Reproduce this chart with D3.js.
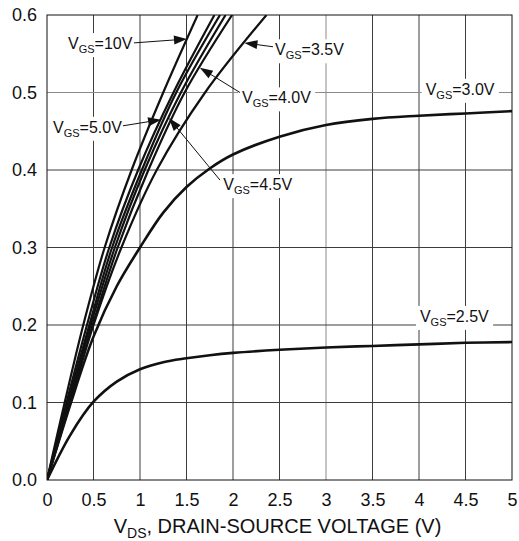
<!DOCTYPE html>
<html>
<head>
<meta charset="utf-8">
<script src="https://d3js.org/d3.v7.min.js"></script>
<title>Drain current vs drain-source voltage</title>
<style>
body { margin: 0; background: #fff; }
text { font-family: "Liberation Sans", Arial, sans-serif; fill: #111; }
</style>
</head>
<body>
<div id="chart"></div>
<script>
// steep curves, read as VDS at fixed drain current levels (A)
var idLevels = [0, 0.1, 0.2, 0.3, 0.4, 0.5, 0.6];
var vds10V  = [0, 0.19, 0.39, 0.62, 0.91, 1.25, 1.62];
var vds5V   = [0, 0.21, 0.43, 0.67, 0.98, 1.36, 1.80];
var vdsMid  = [0, 0.22, 0.455, 0.70, 1.02, 1.39, 1.86];   // unlabelled one in the bundle
var vds4_5V = [0, 0.23, 0.47, 0.73, 1.05, 1.44, 1.92];
var vds4V   = [0, 0.24, 0.49, 0.76, 1.09, 1.48, 1.99];
var vds3_5V = [0, 0.25, 0.50, 0.80, 1.18, 1.70, 2.36];

// flatter curves, read as drain current at fixed VDS
var vdsLevels = [0, 0.25, 0.5, 0.75, 1, 1.25, 1.5, 1.75, 2, 2.5, 3, 3.5, 4, 4.5, 5];
var id3V   = [0, 0.097, 0.185, 0.250, 0.300, 0.345, 0.378, 0.402, 0.420, 0.443, 0.458, 0.466, 0.470, 0.473, 0.476];
var id2_5V = [0, 0.058, 0.101, 0.127, 0.143, 0.152, 0.157, 0.161, 0.164, 0.168, 0.171, 0.173, 0.175, 0.177, 0.178];

var xTicks = [0, 0.5, 1, 1.5, 2, 2.5, 3, 3.5, 4, 4.5, 5];
var xTickLabels = ["0", "0.5", "1", "1.5", "2", "2.5", "3", "3.5", "4", "4.5", "5"];
var yTicks = [0, 0.1, 0.2, 0.3, 0.4, 0.5, 0.6];
var yTickLabels = ["0.0", "0.1", "0.2", "0.3", "0.4", "0.5", "0.6"];

// curve labels: text after "VGS=", text anchor (VDS, ID), arrow start, curve index + ID of arrow tip
var labelText  = ["10V", "5.0V", "4.5V", "4.0V", "3.5V", "3.0V", "2.5V"];
var labelAt    = [[0.226, 0.556], [0.065, 0.448], [1.895, 0.374], [2.097, 0.486], [2.452, 0.548], [4.072, 0.497], [4.01, 0.204]];
var arrowFrom  = [[0.935, 0.564], [0.817, 0.457], [1.86, 0.387], [2.075, 0.50], [2.43, 0.559], null, null];
var arrowCurve = [0, 1, 3, 4, 5, null, null];
var arrowId    = [0.569, 0.465, 0.467, 0.532, 0.564, null, null];

(function(){

var w = 519, h = 541;
var left = 47, right = 512, top = 15, bottom = 480;

var x = d3.scaleLinear().domain([0, 5]).range([left, right]);
var y = d3.scaleLinear().domain([0, 0.6]).range([bottom, top]);

var svg = d3.select("#chart").append("svg")
    .attr("width", w).attr("height", h);

svg.append("clipPath").attr("id", "plot")
  .append("rect")
    .attr("x", left).attr("y", top)
    .attr("width", right - left).attr("height", bottom - top);

// grid
svg.append("g").selectAll("line")
  .data(xTicks.slice(1, -1))
  .enter().append("line")
    .attr("x1", function(d) { return x(d); }).attr("x2", function(d) { return x(d); })
    .attr("y1", top).attr("y2", bottom)
    .attr("stroke", function(d) { return d === 3 ? "#8a8a8a" : "#3c3c3c"; })
    .attr("stroke-width", 1);

svg.append("g").selectAll("line")
  .data(yTicks.slice(1, -1))
  .enter().append("line")
    .attr("x1", left).attr("x2", right)
    .attr("y1", function(d) { return y(d); }).attr("y2", function(d) { return y(d); })
    .attr("stroke", function(d) { return d === 0.5 ? "#8a8a8a" : "#3c3c3c"; })
    .attr("stroke-width", 1);

// curves
var steep = [vds10V, vds5V, vdsMid, vds4_5V, vds4V, vds3_5V];
var curves = steep.map(function(v) {
  return v.map(function(d, i) { return [d, idLevels[i]]; });
});
[id3V, id2_5V].forEach(function(c) {
  curves.push(c.map(function(d, i) { return [vdsLevels[i], d]; }));
});

var line = d3.line()
    .x(function(d) { return x(d[0]); })
    .y(function(d) { return y(d[1]); })
    .curve(d3.curveCatmullRom.alpha(0.5));

svg.append("g").attr("clip-path", "url(#plot)")
  .selectAll("path")
  .data(curves)
  .enter().append("path")
    .attr("d", line)
    .attr("fill", "none")
    .attr("stroke", "#111")
    .attr("stroke-width", function(d, i) { return i < 6 ? 2.2 : 2.6; });

// frame
svg.append("rect")
   .attr("x", left).attr("y", top)
   .attr("width", right - left).attr("height", bottom - top)
   .attr("fill", "none").attr("stroke", "#111").attr("stroke-width", 1);

// axes labels
svg.append("g")
   .attr("transform", "translate(0," + bottom + ")")
   .call(d3.axisBottom(x).tickValues(xTicks)
         .tickFormat(function(d, i) { return xTickLabels[i]; })
         .tickSize(0).tickPadding(13))
   .call(function(g) { g.select(".domain").remove(); })
   .selectAll("text")
     .style("font-family", "'Liberation Sans', Arial, sans-serif")
     .style("font-size", "18px").attr("fill", "#111");

svg.append("g")
   .attr("transform", "translate(" + left + ",0)")
   .call(d3.axisLeft(y).tickValues(yTicks)
         .tickFormat(function(d, i) { return yTickLabels[i]; })
         .tickSize(0).tickPadding(10))
   .call(function(g) { g.select(".domain").remove(); })
   .selectAll("text")
     .style("font-family", "'Liberation Sans', Arial, sans-serif")
     .style("font-size", "18px").attr("fill", "#111");

var title = svg.append("text")
   .attr("x", (left + right) / 2 - 2).attr("y", 533)
   .attr("text-anchor", "middle")
   .style("font-size", "20px");
title.append("tspan").text("V");
title.append("tspan").attr("dy", 5).style("font-size", "14px").text("DS");
title.append("tspan").attr("dy", -5).text(", DRAIN-SOURCE VOLTAGE (V)");

// curve labels
var labels = svg.append("g");
labelText.forEach(function(t, i) {
  var g = labels.append("g");
  var bg = g.append("rect").attr("fill", "#fff");
  var txt = g.append("text")
     .attr("x", x(labelAt[i][0])).attr("y", y(labelAt[i][1]))
     .style("font-size", "16px");
  txt.append("tspan").text("V");
  txt.append("tspan").attr("dy", 4).style("font-size", "11px").text("GS");
  txt.append("tspan").attr("dy", -4).text("=" + t);
  var b = txt.node().getBBox();
  bg.attr("x", b.x - 4).attr("y", b.y - 2)
    .attr("width", b.width + 8).attr("height", b.height + 4);

  if (arrowFrom[i]) {
    var c = arrowCurve[i];
    var vAt = d3.scaleLinear().domain(idLevels).range(steep[c]);
    var tx = x(vAt(arrowId[i])), ty = y(arrowId[i]);
    var sx = x(arrowFrom[i][0]), sy = y(arrowFrom[i][1]);
    var dx = tx - sx, dy = ty - sy, len = Math.sqrt(dx*dx + dy*dy);
    var ux = dx / len, uy = dy / len;
    var L = 13, W = 4.5;
    g.append("line")
      .attr("x1", sx).attr("y1", sy)
      .attr("x2", tx - ux * L * 0.8).attr("y2", ty - uy * L * 0.8)
      .attr("stroke", "#111").attr("stroke-width", 1);
    g.append("path")
      .attr("d", "M" + tx + "," + ty +
                 "L" + (tx - ux*L - uy*W) + "," + (ty - uy*L + ux*W) +
                 "L" + (tx - ux*L + uy*W) + "," + (ty - uy*L - ux*W) + "Z")
      .attr("fill", "#111");
  }
});

})();
</script>
</body>
</html>
